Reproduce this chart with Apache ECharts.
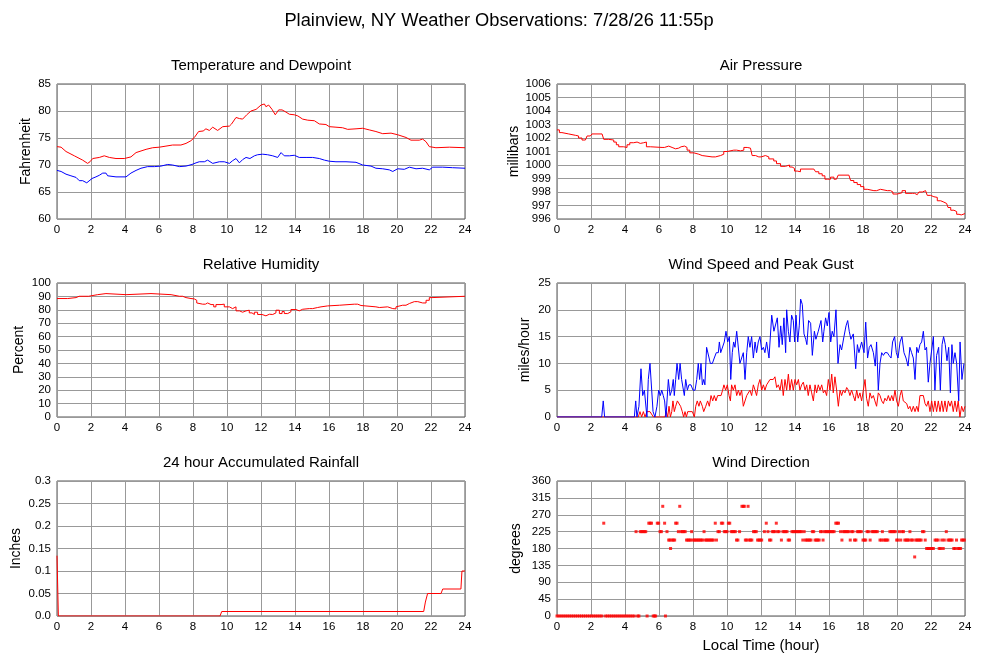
<!DOCTYPE html>
<html>
<head>
<meta charset="utf-8">
<title>Plainview, NY Weather Observations</title>
<script src="https://cdn.jsdelivr.net/npm/echarts@6/dist/echarts.min.js"></script>
<style>
    html, body { margin: 0; padding: 0; background: #fff; }
    #chart { width: 1000px; height: 660px; }
</style>
</head>
<body>
<div id="chart"></div>
<script>
// 所有数据都是 [小时, 数值]
const hourTicks = [0, 2, 4, 6, 8, 10, 12, 14, 16, 18, 20, 22, 24];

const temperature = [[0,73.4],[0.24,73.3],[0.53,72.5],[1.02,71.7],[1.51,70.9],[1.8,70.3],[1.94,70.6],[2.1,71.2],[2.49,71.4],[2.78,71.7],[3.08,71.4],[3.47,71.2],[3.96,71.2],[4.35,71.5],[4.65,72.3],[5.24,72.9],[5.63,73.2],[6.02,73.3],[6.41,73.5],[6.8,73.7],[7.29,73.7],[7.59,74.0],[7.88,74.5],[8.08,75.1],[8.33,76.2],[8.6,76.3],[8.76,76.7],[8.96,76.4],[9.16,77.0],[9.45,76.4],[9.75,77.1],[10.14,77.2],[10.27,77.6],[10.53,78.8],[10.73,78.6],[10.92,78.5],[11.16,79.3],[11.41,80.0],[11.71,80.3],[12.0,81.1],[12.2,81.3],[12.29,80.8],[12.45,81.1],[12.65,80.3],[12.84,79.3],[13.04,80.2],[13.24,80.2],[13.47,79.8],[13.67,79.4],[13.96,79.3],[14.16,79.1],[14.45,78.5],[14.75,78.3],[15.14,78.2],[15.43,77.6],[15.82,77.5],[16.02,77.1],[16.41,77.0],[16.8,76.9],[17.1,76.6],[17.59,76.7],[17.98,76.8],[18.37,76.5],[18.76,76.2],[19.16,75.8],[19.65,75.9],[20.04,75.6],[20.53,75.1],[20.82,74.6],[21.31,74.6],[21.51,74.8],[21.71,74.3],[21.9,73.4],[22.29,73.2],[23.08,73.3],[24,73.2]];

const dewpoint = [[0,69.0],[0.24,68.8],[0.53,68.3],[0.82,68.0],[1.12,67.7],[1.31,67.1],[1.51,67.1],[1.75,66.7],[1.86,66.6],[2.06,67.5],[2.29,67.8],[2.49,68.1],[2.69,68.5],[2.88,68.5],[2.98,68.0],[3.47,67.8],[4.06,67.8],[4.35,68.5],[4.65,69.0],[4.94,69.4],[5.33,69.7],[5.73,69.7],[6.12,69.8],[6.51,70.1],[6.8,70.0],[7.2,69.7],[7.59,69.8],[7.94,70.1],[8.18,70.4],[8.37,70.6],[8.67,70.6],[8.86,70.9],[9.16,70.3],[9.55,70.6],[9.84,70.6],[10.14,70.3],[10.33,70.8],[10.53,71.2],[10.73,70.4],[10.92,71.0],[11.12,71.4],[11.35,71.2],[11.61,71.7],[11.8,71.9],[12.1,72.0],[12.39,71.9],[12.69,71.7],[12.98,71.4],[13.18,72.3],[13.37,71.7],[13.67,71.7],[13.96,71.8],[14.25,71.4],[14.65,71.4],[15.04,71.4],[15.43,71.2],[15.73,70.9],[16.02,70.7],[16.41,70.6],[17.0,70.6],[17.59,70.5],[17.98,70.0],[18.47,69.8],[18.76,69.4],[19.16,69.3],[19.55,69.1],[19.75,68.8],[20.04,69.3],[20.43,69.2],[20.73,69.6],[21.12,69.3],[21.51,69.4],[21.9,69.1],[22.1,69.6],[22.69,69.6],[23.27,69.5],[24,69.4]];

const pressure = [[0,1002.6],[0.14,1002.4],[0.29,1002.3],[0.69,1002.3],[0.78,1002.2],[1.08,1002.15],[1.27,1002.0],[1.47,1001.85],[1.67,1001.85],[1.77,1002.15],[1.96,1002.2],[2.06,1002.3],[2.65,1002.3],[2.75,1001.9],[3.04,1001.85],[3.34,1001.7],[3.49,1001.5],[3.63,1001.35],[3.92,1001.3],[4.12,1001.5],[4.28,1001.65],[4.51,1001.7],[4.71,1001.6],[4.9,1001.65],[5.1,1001.7],[5.26,1001.35],[5.49,1001.3],[6.18,1001.3],[6.32,1001.4],[6.57,1001.3],[6.77,1001.2],[6.97,1001.25],[7.16,1001.35],[7.3,1001.4],[7.5,1001.3],[7.65,1001.1],[7.81,1000.9],[8.05,1000.8],[8.34,1000.7],[8.54,1000.6],[9.12,1000.6],[9.32,1000.7],[9.62,1000.8],[9.81,1001.0],[10.01,1001.1],[10.4,1001.1],[10.56,1001.05],[10.79,1001.1],[10.99,1001.3],[11.19,1001.25],[11.38,1001.15],[11.48,1000.7],[11.68,1000.6],[11.87,1000.6],[12.01,1000.7],[12.26,1000.6],[12.46,1000.45],[12.75,1000.3],[12.91,1000.1],[13.15,999.9],[13.44,999.9],[13.54,1000.0],[13.68,999.85],[13.83,999.75],[13.97,999.55],[14.13,999.5],[14.32,999.7],[15.11,999.7],[15.21,999.5],[15.4,999.35],[15.6,999.2],[15.76,998.95],[15.93,998.95],[16.09,999.1],[16.19,999.1],[16.29,998.95],[16.44,998.95],[16.54,999.25],[17.17,999.25],[17.27,998.85],[17.46,998.7],[17.66,998.55],[17.86,998.4],[18.05,998.2],[18.25,998.1],[18.64,998.1],[18.8,998.2],[19.03,998.1],[19.43,998.1],[19.62,998.0],[19.76,997.85],[20.01,997.9],[20.17,997.95],[20.3,998.1],[20.5,997.9],[20.9,997.9],[21.04,997.8],[21.19,997.9],[21.29,998.0],[21.49,998.1],[21.68,998.05],[21.78,997.75],[21.98,997.65],[22.17,997.6],[22.37,997.35],[22.57,997.25],[22.76,997.15],[22.92,997.1],[23.0,996.85],[23.16,996.65],[23.35,996.55],[23.51,996.35],[23.65,996.3],[23.78,996.4],[24,996.4]];

const humidity = [[0,88.4],[0.63,88.4],[0.7,89.1],[1.12,89.1],[1.22,90.1],[1.3,89.1],[1.41,90.1],[1.86,90.1],[1.94,91.3],[2.39,91.3],[2.49,92.1],[2.88,92.1],[2.98,91.3],[4.06,91.3],[4.16,92.1],[5.53,92.1],[5.63,91.3],[6.71,91.3],[6.8,90.1],[7.2,90.1],[7.39,89.1],[7.59,88.4],[7.88,88.1],[8.08,87.1],[8.22,85.1],[8.33,84.2],[8.57,84.2],[8.73,85.1],[8.86,83.9],[9.06,83.9],[9.22,82.2],[9.35,83.9],[9.65,84.2],[9.84,82.2],[10.14,80.9],[10.33,82.2],[10.53,79.2],[10.73,78.2],[10.92,79.2],[11.12,79.7],[11.31,77.7],[11.47,76.5],[11.61,78.2],[11.8,76.5],[12.06,75.5],[12.29,76.7],[12.49,76.5],[12.69,77.7],[12.88,79.7],[13.08,77.2],[13.24,78.7],[13.37,77.2],[13.57,78.5],[13.76,80.2],[14.06,79.2],[14.25,80.4],[14.45,80.9],[14.84,80.9],[15.04,81.7],[15.33,82.2],[15.53,82.9],[15.92,82.9],[16.02,83.4],[16.61,83.4],[16.71,84.2],[17.49,84.2],[17.69,83.2],[17.88,82.2],[18.76,82.2],[18.86,81.7],[18.96,82.2],[19.45,82.2],[19.55,80.9],[19.75,80.7],[19.94,82.2],[20.04,83.4],[20.33,83.4],[20.53,84.7],[20.73,86.1],[21.02,86.1],[21.22,85.1],[21.51,85.1],[21.71,87.1],[21.9,89.1],[22.06,90.1],[24,90.1]];

const windGust = [[0,0],[2.63,0],[2.72,3],[2.8,0],[4.55,0],[4.63,3],[4.7,0],[4.82,2],[4.94,9],[5.04,4],[5.14,5],[5.22,5],[5.29,0],[5.37,7],[5.47,10],[5.57,5],[5.65,1],[5.76,0],[5.88,2],[5.98,5],[6.08,4],[6.16,5],[6.25,4],[6.33,3],[6.41,0],[6.55,7],[6.65,4],[6.75,5],[6.84,7],[6.9,4],[6.98,7],[7.06,10],[7.16,7],[7.24,10],[7.33,7],[7.41,7],[7.49,4],[7.57,7],[7.67,5],[7.76,6],[7.88,6],[8.0,5],[8.12,5],[8.22,7],[8.31,10],[8.39,7],[8.47,10],[8.55,6],[8.63,7],[8.7,6],[8.8,13],[8.9,13],[9.02,10],[9.14,10],[9.25,11],[9.37,12],[9.49,12],[9.55,14],[9.63,12],[9.74,12],[9.84,14],[9.94,16],[10.04,14],[10.14,15],[10.22,7],[10.31,12],[10.39,14],[10.47,13],[10.57,16],[10.65,16],[10.76,10],[10.86,10],[10.96,12],[11.06,7],[11.16,12],[11.25,15],[11.35,13],[11.45,15],[11.55,11],[11.65,14],[11.74,12],[11.84,14],[11.94,15],[12.04,12.5],[12.14,13],[12.23,12],[12.33,14],[12.47,11],[12.63,19],[12.76,16],[12.86,16],[12.96,18.5],[13.06,13],[13.16,17],[13.25,13.5],[13.35,18.5],[13.45,12],[13.51,20],[13.61,16],[13.7,14],[13.8,19],[13.9,18],[13.98,14],[14.06,19],[14.16,14],[14.25,17],[14.33,22],[14.43,21],[14.53,15.5],[14.63,14.5],[14.7,13.5],[14.8,18],[14.92,17.5],[15.02,11.5],[15.14,16],[15.23,14.5],[15.37,16],[15.53,18],[15.63,14],[15.7,16],[15.8,18.5],[15.9,17],[16.0,19.5],[16.1,14],[16.19,16],[16.29,15],[16.41,20],[16.53,10],[16.65,13.5],[16.74,12.5],[16.88,15],[17.0,17],[17.1,18],[17.19,16],[17.29,14.5],[17.43,15.5],[17.57,9],[17.67,13.5],[17.76,12],[17.92,14],[18.06,12],[18.16,17.7],[18.27,11],[18.37,13],[18.47,13.5],[18.61,12],[18.72,9.5],[18.8,14],[18.9,5],[19.0,10],[19.1,12],[19.2,11.5],[19.29,12],[19.43,12],[19.53,11.5],[19.65,11],[19.74,14],[19.86,15],[19.96,12],[20.06,11],[20.18,14],[20.29,15],[20.41,12],[20.53,11],[20.65,9.5],[20.76,13],[20.86,12],[20.96,11],[21.06,7],[21.16,13],[21.25,12],[21.35,13.5],[21.45,14],[21.55,16],[21.65,12.5],[21.74,13],[21.84,6.5],[21.94,10],[22.04,10],[22.14,15],[22.23,5],[22.33,11.5],[22.45,13],[22.55,5],[22.65,13.5],[22.74,15],[22.84,13.5],[22.94,10.5],[23.04,13],[23.14,4.5],[23.23,13.5],[23.31,10],[23.41,12],[23.51,10],[23.63,3],[23.71,14],[23.82,7],[23.94,10]];

const windSpeed = [[0,0],[4.78,0],[4.88,1],[4.98,0],[5.08,1],[5.18,0],[5.29,1],[5.47,1],[5.57,1],[5.67,0],[6.35,0],[6.43,1],[6.51,0],[6.59,2],[6.67,0],[6.75,1],[6.82,3],[6.9,1],[6.98,2],[7.08,3],[7.18,3],[7.27,2],[7.37,1],[7.45,0],[7.53,1],[7.61,0],[7.69,1],[7.82,1],[7.96,1],[8.08,0],[8.16,2],[8.25,3],[8.35,2],[8.43,3],[8.55,2],[8.63,1],[8.75,2],[8.86,3],[8.96,2],[9.06,4],[9.16,3],[9.25,4],[9.35,3],[9.45,4],[9.55,4],[9.65,4],[9.74,5],[9.82,6],[9.92,5],[10.02,6],[10.12,4],[10.2,3],[10.27,6],[10.37,5],[10.47,6],[10.57,4],[10.67,5],[10.76,4],[10.86,5],[10.96,2],[11.06,2],[11.16,4],[11.25,4],[11.35,5],[11.45,4],[11.55,6],[11.65,5],[11.74,4],[11.84,6],[11.94,7],[12.04,5],[12.14,6],[12.23,5],[12.33,6],[12.43,6],[12.53,7],[12.63,7],[12.72,7],[12.82,7.5],[12.92,5.5],[13.02,6],[13.12,5],[13.22,7],[13.31,4],[13.41,7],[13.51,5],[13.61,8],[13.7,5],[13.8,7],[13.9,5],[14.0,7],[14.1,6],[14.2,7],[14.29,5],[14.39,6],[14.49,6.5],[14.59,5],[14.69,6],[14.78,4],[14.88,6],[14.98,4.5],[15.08,3],[15.18,6],[15.27,4.5],[15.37,6],[15.47,5],[15.57,6],[15.67,4.5],[15.76,5],[15.86,4],[15.96,7],[16.06,5],[16.16,8],[16.25,4.5],[16.35,7.5],[16.45,5],[16.55,2],[16.65,5],[16.74,4],[16.84,5],[16.94,4.5],[17.04,5.5],[17.14,5],[17.23,4],[17.33,5],[17.43,4],[17.53,3],[17.63,5],[17.72,3.5],[17.82,4.5],[17.92,3],[18.02,5],[18.12,7],[18.21,3.5],[18.31,2],[18.41,4.5],[18.51,3.5],[18.61,4],[18.7,3],[18.8,2],[18.9,4.5],[19.0,4],[19.1,3],[19.2,2.5],[19.29,3.5],[19.39,3],[19.49,4],[19.59,3],[19.69,4],[19.78,3],[19.88,5],[19.98,3],[20.08,2],[20.18,4],[20.27,5],[20.37,3],[20.47,3],[20.57,2.5],[20.67,1.5],[20.76,2],[20.86,1],[20.96,2],[21.06,1],[21.16,2],[21.25,1],[21.35,4],[21.45,4],[21.55,4],[21.65,2.5],[21.74,2],[21.84,3],[21.94,1],[22.04,3],[22.14,1],[22.23,3],[22.33,1],[22.43,3],[22.53,1],[22.63,3],[22.72,1],[22.82,3],[22.92,1],[23.02,3],[23.12,2],[23.21,3],[23.31,1],[23.41,3],[23.51,1],[23.6,3],[23.7,0],[23.8,2],[23.9,1],[24,2]];

const rainfall = [[0,0.134],[0.08,0],[9.59,0],[9.69,0.01],[21.57,0.01],[21.67,0.031],[21.8,0.05],[22.59,0.05],[22.69,0.06],[23.76,0.06],[23.82,0.1],[24,0.1]];

const windDirection = [[0,0],[0.12,0],[0.24,0],[0.36,0],[0.48,0],[0.6,0],[0.72,0],[0.84,0],[0.96,0],[1.08,0],[1.2,0],[1.32,0],[1.44,0],[1.56,0],[1.68,0],[1.8,0],[1.92,0],[2.04,0],[2.16,0],[2.28,0],[2.4,0],[2.52,0],[2.64,0],[2.75,247.5],[2.86,0],[2.98,0],[3.1,0],[3.22,0],[3.34,0],[3.46,0],[3.58,0],[3.7,0],[3.82,0],[3.94,0],[4.06,0],[4.18,0],[4.3,0],[4.42,0],[4.54,0],[4.65,225],[4.75,0],[4.82,0],[4.9,225],[4.98,225],[5.06,225],[5.14,225],[5.22,225],[5.3,0],[5.4,247.5],[5.48,247.5],[5.56,247.5],[5.66,0],[5.74,0],[5.8,0],[5.9,247.5],[5.98,247.5],[6.06,225],[6.14,225],[6.22,292.5],[6.33,247.5],[6.38,0],[6.47,225],[6.57,202.5],[6.64,202.5],[6.68,180],[6.76,202.5],[6.84,202.5],[6.92,202.5],[6.98,247.5],[7.06,247.5],[7.14,225],[7.22,292.5],[7.3,225],[7.38,225],[7.46,225],[7.54,225],[7.62,202.5],[7.7,202.5],[7.78,202.5],[7.86,202.5],[7.92,225],[8.0,202.5],[8.08,202.5],[8.16,202.5],[8.24,202.5],[8.32,202.5],[8.4,202.5],[8.48,202.5],[8.56,202.5],[8.65,225],[8.72,202.5],[8.8,202.5],[8.88,202.5],[8.96,202.5],[9.04,202.5],[9.12,202.5],[9.2,202.5],[9.31,247.5],[9.38,202.5],[9.47,225],[9.55,225],[9.67,247.5],[9.75,247.5],[9.84,225],[9.92,225],[10.0,225],[10.08,247.5],[10.16,247.5],[10.25,225],[10.33,225],[10.41,225],[10.49,225],[10.56,202.5],[10.64,202.5],[10.74,225],[10.88,292.5],[10.96,292.5],[11.02,292.5],[11.08,202.5],[11.16,202.5],[11.24,292.5],[11.3,202.5],[11.38,202.5],[11.46,202.5],[11.56,225],[11.64,225],[11.72,225],[11.8,202.5],[11.88,202.5],[11.96,202.5],[12.04,202.5],[12.2,225],[12.31,247.5],[12.41,225],[12.5,202.5],[12.58,202.5],[12.66,225],[12.74,225],[12.82,225],[12.9,247.5],[12.98,225],[13.06,225],[13.2,202.5],[13.29,225],[13.37,225],[13.45,225],[13.53,225],[13.6,202.5],[13.68,202.5],[13.82,225],[13.9,225],[13.98,225],[14.06,225],[14.14,225],[14.22,225],[14.3,225],[14.38,225],[14.46,202.5],[14.54,225],[14.62,202.5],[14.7,202.5],[14.78,202.5],[14.86,202.5],[14.94,202.5],[15.02,225],[15.1,225],[15.18,202.5],[15.26,202.5],[15.34,202.5],[15.42,202.5],[15.5,225],[15.58,225],[15.65,202.5],[15.74,225],[15.82,225],[15.9,225],[15.98,225],[16.06,225],[16.14,225],[16.22,225],[16.3,225],[16.4,247.5],[16.48,247.5],[16.56,247.5],[16.68,225],[16.76,202.5],[16.84,225],[16.92,225],[17.0,225],[17.08,225],[17.16,225],[17.25,202.5],[17.33,225],[17.41,225],[17.5,202.5],[17.58,202.5],[17.66,225],[17.74,225],[17.82,225],[17.9,225],[18.0,202.5],[18.08,202.5],[18.16,202.5],[18.24,225],[18.32,225],[18.42,202.5],[18.52,225],[18.6,225],[18.68,225],[18.76,225],[18.84,225],[19.0,202.5],[19.08,202.5],[19.14,225],[19.22,202.5],[19.3,202.5],[19.38,202.5],[19.46,202.5],[19.58,225],[19.66,225],[19.74,225],[19.82,225],[19.9,225],[19.98,202.5],[20.06,202.5],[20.14,225],[20.22,202.5],[20.3,225],[20.38,225],[20.46,202.5],[20.54,202.5],[20.62,202.5],[20.7,202.5],[20.76,225],[20.84,202.5],[20.92,202.5],[21.04,157.5],[21.1,202.5],[21.18,202.5],[21.26,202.5],[21.34,202.5],[21.42,202.5],[21.5,225],[21.58,225],[21.66,202.5],[21.74,180],[21.82,180],[21.9,180],[21.98,180],[22.06,180],[22.14,180],[22.24,202.5],[22.32,202.5],[22.42,202.5],[22.48,180],[22.56,180],[22.64,202.5],[22.72,180],[22.78,202.5],[22.9,225],[23.0,202.5],[23.08,202.5],[23.16,202.5],[23.24,202.5],[23.34,180],[23.42,180],[23.5,202.5],[23.58,180],[23.66,180],[23.74,180],[23.8,202.5],[23.88,202.5],[23.96,202.5]];

const FONT = '"Liberation Sans", Arial, Helvetica, sans-serif';
const RED = '#ff0000';
const BLUE = '#0000ff';

// 六个面板的位置
const panels = [
    { left: 57,  top: 84,  height: 135, title: 'Temperature and Dewpoint', yName: 'Fahrenheit', nameGap: 24, min: 60, max: 85, interval: 5 },
    { left: 557, top: 84,  height: 135, title: 'Air Pressure', yName: 'millibars', nameGap: 36, min: 996, max: 1006, interval: 1 },
    { left: 57,  top: 283, height: 134, title: 'Relative Humidity', yName: 'Percent', nameGap: 31, min: 0, max: 100, interval: 10 },
    { left: 557, top: 283, height: 134, title: 'Wind Speed and Peak Gust', yName: 'miles/hour', nameGap: 25, min: 0, max: 25, interval: 5 },
    { left: 57,  top: 481, height: 135, title: '24 hour Accumulated Rainfall', yName: 'Inches', nameGap: 34, min: 0, max: 0.3, interval: 0.05 },
    { left: 557, top: 481, height: 135, title: 'Wind Direction', yName: 'degrees', nameGap: 34, min: 0, max: 360, interval: 45 }
];
const PANEL_W = 408;

function lineSeries(idx, data, color, step) {
    return {
        type: 'line',
        xAxisIndex: idx,
        yAxisIndex: idx,
        data: data,
        step: step || false,
        showSymbol: false,
        silent: true,
        lineStyle: { color: color, width: 1 },
        itemStyle: { color: color }
    };
}

function buildOption() {
    const titles = [{
        text: 'Plainview, NY Weather Observations: 7/28/26 11:55p',
        left: 499,
        top: 12,
        textAlign: 'center',
        padding: 0,
        textStyle: { fontFamily: FONT, fontSize: 18.3, fontWeight: 'normal', color: '#000' }
    }];
    const grids = [];
    const xAxes = [];
    const yAxes = [];

    panels.forEach((p, i) => {
        titles.push({
            text: p.title,
            left: p.left + PANEL_W / 2,
            top: p.top - 26,
            textAlign: 'center',
            padding: 0,
            textStyle: { fontFamily: FONT, fontSize: 15, fontWeight: 'normal', color: '#000' }
        });
        grids.push({
            left: p.left, top: p.top, width: PANEL_W, height: p.height,
            show: true, borderColor: '#555', borderWidth: 1, backgroundColor: '#fff',
            containLabel: false, outerBoundsMode: 'none'
        });
        xAxes.push({
            type: 'value', gridIndex: i, min: 0, max: 24, interval: 2,
            name: i === 5 ? 'Local Time (hour)' : '',
            nameLocation: 'middle', nameGap: 22,
            nameTextStyle: { fontFamily: FONT, fontSize: 15, color: '#000' },
            axisLine: { show: false }, axisTick: { show: false },
            axisLabel: { fontFamily: FONT, fontSize: 11.5, color: '#000', margin: 5,
                formatter: v => hourTicks.includes(v) ? String(v) : '' },
            splitLine: { show: true, lineStyle: { color: '#999', width: 1 } }
        });
        yAxes.push({
            type: 'value', gridIndex: i, min: p.min, max: p.max, interval: p.interval,
            name: p.yName, nameLocation: 'middle', nameGap: p.nameGap,
            nameTextStyle: { fontFamily: FONT, fontSize: 14, color: '#000' },
            axisLine: { show: false }, axisTick: { show: false },
            axisLabel: { fontFamily: FONT, fontSize: 11.5, color: '#000', margin: 6,
                formatter: v => (i === 4 && v === 0) ? '0.0' : String(+v.toFixed(2)) },
            splitLine: { show: true, lineStyle: { color: '#999', width: 1 } }
        });
    });

    const series = [
        lineSeries(0, temperature, RED),
        lineSeries(0, dewpoint, BLUE),
        lineSeries(1, pressure, RED, 'end'),
        lineSeries(2, humidity, RED, 'end'),
        lineSeries(3, windSpeed, RED),
        lineSeries(3, windGust, BLUE),
        lineSeries(4, rainfall, RED),
        {
            type: 'scatter',
            xAxisIndex: 5,
            yAxisIndex: 5,
            data: windDirection,
            symbol: 'rect',
            symbolSize: 3,
            silent: true,
            itemStyle: { color: RED }
        }
    ];

    return {
        animation: false,
        backgroundColor: '#fff',
        title: titles,
        grid: grids,
        xAxis: xAxes,
        yAxis: yAxes,
        series: series
    };
}

document.addEventListener('DOMContentLoaded', () => {
    const chart = echarts.init(document.getElementById('chart'), null, { renderer: 'canvas' });
    chart.setOption(buildOption());
});
</script>
</body>
</html>
